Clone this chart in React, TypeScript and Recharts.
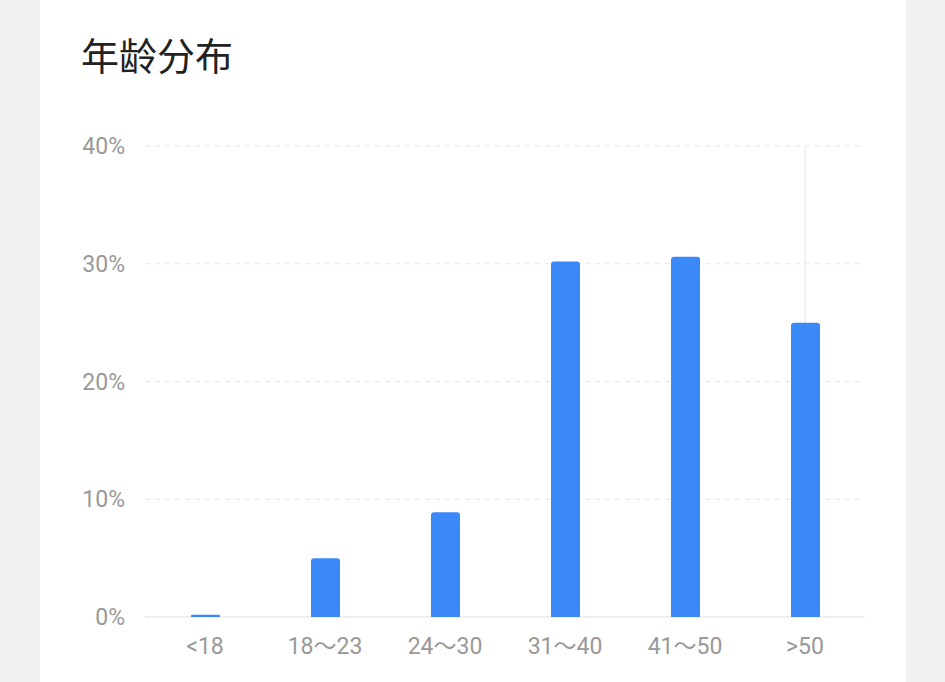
import React from "react";
import { BarChart, Bar, XAxis, YAxis, CartesianGrid, ReferenceLine } from "recharts";

const categories = ["<18", "18～23", "24～30", "31～40", "41～50", ">50"];
const shares = [0.2, 5.0, 8.9, 30.2, 30.6, 25.0];
const yTicks = [0, 10, 20, 30, 40];
const title = "年龄分布";
const highlighted = ">50";

const data = categories.map((name, i) => ({ name, value: shares[i] }));

const FONT = "Roboto, 'Noto Sans CJK SC', sans-serif";
const MARGIN = { top: 146, right: 80, bottom: 0, left: 0 };

export default function App() {
  return (
    <div
      style={{
        position: "absolute",
        left: 0,
        top: 0,
        width: 945,
        height: 682,
        background: "#f1f1f1",
        overflow: "hidden",
        fontFamily: FONT,
      }}
    >
      <div
        style={{
          position: "absolute",
          left: 40,
          top: 0,
          width: 866,
          height: 682,
          background: "#ffffff",
        }}
      />
      <div
        style={{
          position: "absolute",
          left: 81,
          top: 29,
          fontSize: 38,
          lineHeight: "50px",
          color: "#222222",
          fontFamily: "'Noto Sans CJK SC', sans-serif",
          fontWeight: 400,
        }}
      >
        {title}
      </div>
      {/* background layer: grid, axes, highlight line */}
      <div style={{ position: "absolute", left: 0, top: 0 }}>
        <BarChart width={945} height={682} data={data} margin={MARGIN} barSize={29}>
          <CartesianGrid vertical={false} stroke="#e6e6e6" strokeDasharray="5 5" />
          <XAxis
            dataKey="name"
            height={65}
            tickLine={false}
            axisLine={{ stroke: "#ececec", strokeWidth: 1.5 }}
            tickMargin={15}
            tick={{ fill: "#999999", fontSize: 23, fontFamily: FONT }}
            interval={0}
          />
          <YAxis
            width={145}
            domain={[0, 40]}
            ticks={yTicks}
            tickFormatter={(v) => `${v}%`}
            tickLine={false}
            axisLine={false}
            tickMargin={14}
            tick={{ fill: "#999999", fontSize: 23, fontFamily: FONT }}
          />
          <Bar dataKey="value" fill="transparent" fillOpacity={0} isAnimationActive={false} />
          <ReferenceLine x={highlighted} stroke="#ececec" strokeWidth={1.5} />
        </BarChart>
      </div>
      {/* foreground layer: bars */}
      <div style={{ position: "absolute", left: 0, top: 0 }}>
        <BarChart width={945} height={682} data={data} margin={MARGIN} barSize={29}>
          <XAxis dataKey="name" height={65} tick={false} tickLine={false} axisLine={false} interval={0} />
          <YAxis width={145} domain={[0, 40]} ticks={yTicks} tick={false} tickLine={false} axisLine={false} />
          <Bar dataKey="value" fill="#3b88f8" radius={[3, 3, 0, 0]} isAnimationActive={false} />
        </BarChart>
      </div>
    </div>
  );
}
